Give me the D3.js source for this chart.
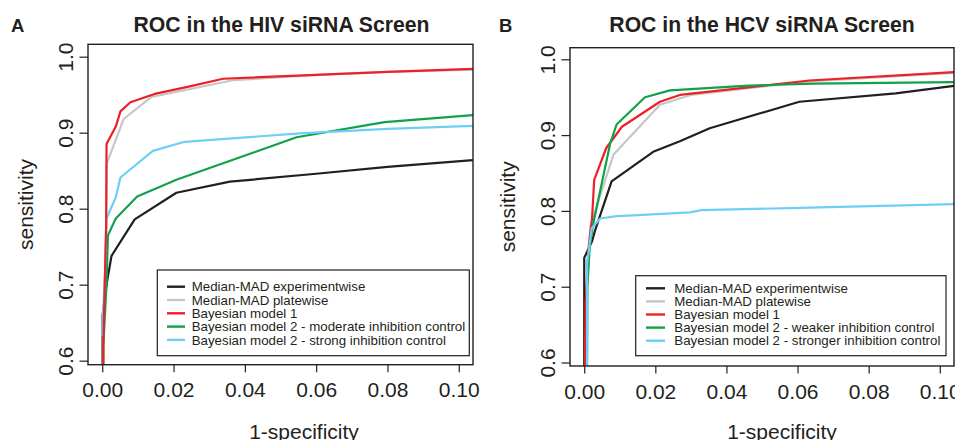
<!DOCTYPE html>
<html>
<head>
<meta charset="utf-8">
<script src="https://cdn.jsdelivr.net/npm/d3@7/dist/d3.min.js"></script>
<style>
  body { margin: 0; background: #fff; }
  text { font-family: "Liberation Sans", Arial, sans-serif; fill: #231f20; }
</style>
</head>
<body>
<div id="container"></div>
<script>
// tick values shared by both panels
let xTicks = [0, 0.02, 0.04, 0.06, 0.08, 0.10];
let yTicks = [0.6, 0.7, 0.8, 0.9, 1.0];

// HIV screen, [1-specificity, sensitivity]
let hivExperimentwise = [[0, 0], [0.0001, 0.66], [0.0012, 0.70], [0.0026, 0.738], [0.0091, 0.786], [0.0208, 0.821], [0.0358, 0.8355], [0.06, 0.846], [0.08, 0.855], [0.104, 0.864]];
let hivPlatewise = [[0, 0], [0.0003, 0.62], [0.001, 0.75], [0.0013, 0.86], [0.006, 0.918], [0.0138, 0.947], [0.0367, 0.969], [0.06, 0.976], [0.08, 0.980], [0.104, 0.983]];
let hivModel1 = [[0, 0], [0.0003, 0.62], [0.0011, 0.78], [0.0012, 0.885], [0.0038, 0.908], [0.0051, 0.928], [0.0079, 0.940], [0.0147, 0.951], [0.0236, 0.960], [0.0339, 0.971], [0.06, 0.976], [0.08, 0.980], [0.104, 0.984]];
let hivModel2Moderate = [[0, 0], [0.0003, 0.62], [0.0012, 0.70], [0.0016, 0.765], [0.0038, 0.787], [0.0098, 0.816], [0.0208, 0.838], [0.0545, 0.894], [0.0792, 0.914], [0.104, 0.923]];
let hivModel2Strong = [[0, 0.632], [0.0002, 0.66], [0.0008, 0.72], [0.0012, 0.787], [0.0038, 0.815], [0.0051, 0.841], [0.0142, 0.876], [0.0231, 0.888], [0.0554, 0.899], [0.08, 0.905], [0.104, 0.909]];

// HCV screen
let hcvExperimentwise = [[0, 0], [0, 0.738], [0.0022, 0.76], [0.0031, 0.775], [0.0077, 0.839], [0.0194, 0.878], [0.0269, 0.892], [0.0353, 0.909], [0.0605, 0.944], [0.0876, 0.955], [0.104, 0.965]];
let hcvPlatewise = [[0, 0], [0.0003, 0.60], [0.0008, 0.70], [0.0017, 0.78], [0.0082, 0.874], [0.0213, 0.940], [0.03, 0.953], [0.0633, 0.971], [0.104, 0.982]];
let hcvModel1 = [[0, 0], [0.0002, 0.60], [0.0004, 0.68], [0.0012, 0.75], [0.0022, 0.79], [0.0028, 0.841], [0.0062, 0.883], [0.0106, 0.911], [0.0213, 0.944], [0.0269, 0.953], [0.0633, 0.972], [0.104, 0.983]];
let hcvModel2Weaker = [[0, 0], [0.0008, 0.60], [0.0009, 0.70], [0.0015, 0.75], [0.0024, 0.78], [0.0073, 0.889], [0.0091, 0.914], [0.0171, 0.950], [0.0241, 0.959], [0.045, 0.965], [0.0642, 0.968], [0.104, 0.970]];
let hcvModel2Stronger = [[0, 0], [0.0008, 0.60], [0.0008, 0.73], [0.0021, 0.777], [0.0045, 0.790], [0.0091, 0.793], [0.0138, 0.794], [0.0297, 0.798], [0.033, 0.801], [0.0605, 0.804], [0.104, 0.809]];

let hivNames = ['Median-MAD experimentwise', 'Median-MAD platewise', 'Bayesian model 1',
    'Bayesian model 2 - moderate inhibition control', 'Bayesian model 2 - strong inhibition control'];
let hcvNames = ['Median-MAD experimentwise', 'Median-MAD platewise', 'Bayesian model 1',
    'Bayesian model 2 - weaker inhibition control', 'Bayesian model 2 - stronger inhibition control'];

let colors = ['#231f20', '#c6c6c6', '#ec2027', '#12a14b', '#6dcff6'];

let width = 955;
let height = 440;

let panels = [
    {
        letter: 'A', title: 'ROC in the HIV siRNA Screen', names: hivNames,
        series: [hivExperimentwise, hivPlatewise, hivModel1, hivModel2Moderate, hivModel2Strong],
        order: [0, 1, 3, 4, 2],
        box: { left: 88, right: 473, top: 44.3, bottom: 364.7 },
        yDomain: [0.5947, 1.0163], titleX: 281.5, xLabelX: 304, letterX: 11,
        legend: { left: 157.3, right: 469.3, top: 270, bottom: 355.7, firstRow: 286.7, rowStep: 13.3, lineX: 167, lineLen: 18, textX: 191.7 }
    },
    {
        letter: 'B', title: 'ROC in the HCV siRNA Screen', names: hcvNames,
        series: [hcvExperimentwise, hcvPlatewise, hcvModel1, hcvModel2Weaker, hcvModel2Stronger],
        order: [0, 1, 2, 3, 4],
        box: { left: 570, right: 954, top: 47.7, bottom: 366 },
        yDomain: [0.5954, 1.0153], titleX: 762, xLabelX: 782, letterX: 499,
        legend: { left: 635.7, right: 946, top: 275.7, bottom: 355.7, firstRow: 288.3, rowStep: 13.1, lineX: 646, lineLen: 19, textX: 674.3 }
    }
];

let svg = d3.select('#container').append('svg')
    .attr('width', width).attr('height', height);

panels.forEach((p, pi) => {
    let b = p.box;
    let g = svg.append('g');

    let xScale = d3.scaleLinear().domain([-0.004, 0.104]).range([b.left, b.right]);
    let yScale = d3.scaleLinear().domain(p.yDomain).range([b.bottom, b.top]);

    // clip lines to plot region like R does
    svg.append('clipPath').attr('id', 'clip' + pi)
        .append('rect')
        .attr('x', b.left).attr('y', b.top)
        .attr('width', b.right - b.left).attr('height', b.bottom - b.top);

    let line = d3.line()
        .x(d => xScale(d[0]))
        .y(d => yScale(d[1]));

    g.append('g').attr('clip-path', 'url(#clip' + pi + ')')
        .selectAll('path').data(p.order).enter()
        .append('path')
        .attr('d', i => line(p.series[i]))
        .attr('fill', 'none')
        .attr('stroke', i => colors[i])
        .attr('stroke-width', 2.2)
        .attr('stroke-linejoin', 'round');

    // x axis
    let xAxis = g.append('g')
        .attr('transform', 'translate(0,' + b.bottom + ')')
        .call(d3.axisBottom(xScale).tickValues(xTicks).tickFormat(d3.format('.2f')).tickSize(7.5).tickSizeOuter(0));
    xAxis.select('.domain').remove();
    xAxis.selectAll('.tick line').attr('stroke', '#231f20').attr('stroke-width', 1.2);
    xAxis.selectAll('.tick text')
        .attr('y', 32.5).attr('dy', 0)
        .attr('font-size', 21).attr('fill', '#231f20');

    // y axis, labels parallel to the axis
    let yAxis = g.append('g')
        .attr('transform', 'translate(' + b.left + ',0)')
        .call(d3.axisLeft(yScale).tickValues(yTicks).tickFormat(d3.format('.1f')).tickSize(8.5).tickSizeOuter(0));
    yAxis.select('.domain').remove();
    yAxis.selectAll('.tick line').attr('stroke', '#231f20').attr('stroke-width', 1.2);
    yAxis.selectAll('.tick text')
        .attr('x', 0).attr('y', -15.5).attr('dy', 0)
        .attr('transform', 'rotate(-90)')
        .attr('text-anchor', 'middle')
        .attr('font-size', 21).attr('fill', '#231f20');

    // plot box
    g.append('rect')
        .attr('x', b.left).attr('y', b.top)
        .attr('width', b.right - b.left).attr('height', b.bottom - b.top)
        .attr('fill', 'none').attr('stroke', '#231f20').attr('stroke-width', 1.4);

    // titles and labels
    g.append('text').text(p.title)
        .attr('x', p.titleX).attr('y', 32).attr('text-anchor', 'middle')
        .attr('font-size', 21.2).attr('font-weight', 'bold');
    g.append('text').text(p.letter)
        .attr('x', p.letterX).attr('y', 31.7)
        .attr('font-size', 18.5).attr('font-weight', 'bold');
    g.append('text').text('1-specificity')
        .attr('x', p.xLabelX).attr('y', 438.5).attr('text-anchor', 'middle')
        .attr('font-size', 21);
    g.append('text').text('sensitivity')
        .attr('transform', 'translate(' + (b.left - 55.5) + ',' + ((b.top + b.bottom) / 2) + ') rotate(-90)')
        .attr('text-anchor', 'middle')
        .attr('font-size', 21);

    // legend
    let lg = p.legend;
    g.append('rect')
        .attr('x', lg.left).attr('y', lg.top)
        .attr('width', lg.right - lg.left).attr('height', lg.bottom - lg.top)
        .attr('fill', '#fff').attr('stroke', '#231f20').attr('stroke-width', 1.2);

    let rows = g.selectAll('.legendRow').data(p.names).enter()
        .append('g').attr('class', 'legendRow')
        .attr('transform', (d, i) => 'translate(0,' + (lg.firstRow + i * lg.rowStep) + ')');
    rows.append('line')
        .attr('x1', lg.lineX).attr('x2', lg.lineX + lg.lineLen)
        .attr('y1', 0).attr('y2', 0)
        .attr('stroke', (d, i) => colors[i]).attr('stroke-width', 2.4);
    rows.append('text').text(d => d)
        .attr('x', lg.textX).attr('y', 4.7)
        .attr('font-size', 13.3);
});
</script>
</body>
</html>
